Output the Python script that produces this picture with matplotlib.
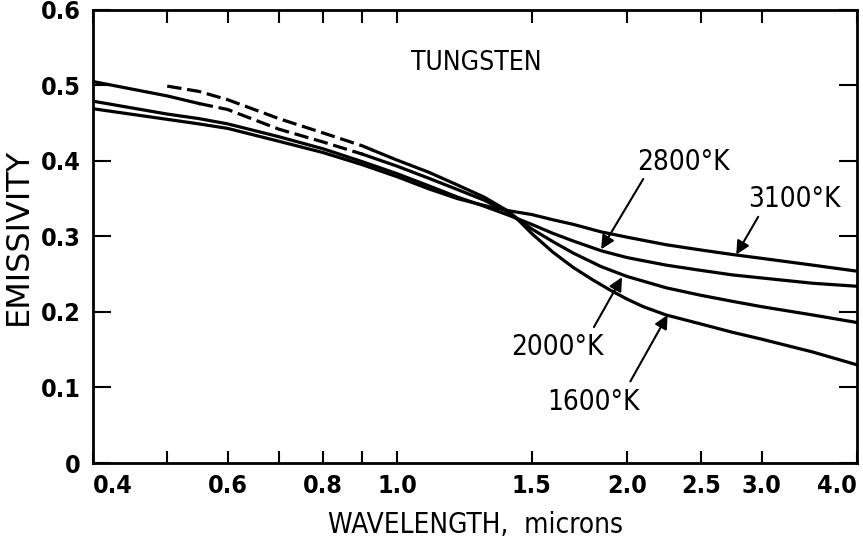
import matplotlib
matplotlib.use("Agg")
import matplotlib.pyplot as plt
from matplotlib.ticker import FixedLocator, NullFormatter
import numpy as np

plt.rcParams['font.family'] = ['DejaVu Sans']
plt.rcParams['font.stretch'] = 'condensed'

# wavelength grid (microns) and emissivity
wl = [0.4, 0.5, 0.55, 0.6, 0.7, 0.8, 0.9, 1.0, 1.1, 1.2, 1.3, 1.4, 1.5,
      1.6, 1.7, 1.85, 2.0, 2.25, 2.5, 2.75, 3.0, 3.5, 4.0]
e3100 = [0.469, 0.455, 0.449, 0.443, 0.426, 0.411, 0.395, 0.379, 0.363, 0.350, 0.341, 0.334, 0.329,
         0.322, 0.316, 0.306, 0.299, 0.289, 0.282, 0.276, 0.271, 0.262, 0.254]
e2800 = [0.479, 0.462, 0.456, 0.449, 0.432, 0.416, 0.399, 0.383, 0.367, 0.352, 0.340, 0.328, 0.316,
         0.304, 0.294, 0.281, 0.272, 0.262, 0.255, 0.249, 0.245, 0.238, 0.234]
e2000 = [0.505, 0.486, 0.476, 0.468, 0.442, 0.425, 0.409, 0.393, 0.377, 0.362, 0.348, 0.332, 0.310,
         0.293, 0.278, 0.260, 0.247, 0.232, 0.222, 0.214, 0.207, 0.196, 0.186]
wl1600 = [0.5, 0.55, 0.6, 0.7, 0.8, 0.9, 0.93, 1.0, 1.1, 1.2, 1.3, 1.4, 1.45, 1.5,
          1.6, 1.7, 1.8, 1.9, 2.0, 2.1, 2.25, 2.5, 2.75, 3.0, 3.5, 4.0]
e1600 = [0.499, 0.492, 0.481, 0.456, 0.437, 0.420, 0.414, 0.401, 0.385, 0.368, 0.352, 0.333, 0.319, 0.304,
         0.279, 0.259, 0.243, 0.229, 0.217, 0.207, 0.196, 0.184, 0.173, 0.164, 0.147, 0.130]

xticks = [0.4, 0.6, 0.8, 1.0, 1.5, 2.0, 2.5, 3.0, 4.0]
xticklabels = ["0.4", "0.6", "0.8", "1.0", "1.5", "2.0", "2.5", "3.0", "4.0"]
xminor = [0.5, 0.7, 0.9]
yticks = [0, 0.1, 0.2, 0.3, 0.4, 0.5, 0.6]
yticklabels = ["0", "0.1", "0.2", "0.3", "0.4", "0.5", "0.6"]

# label text, text centre, arrow tail, arrow tip
labels = ["2800°K", "3100°K", "2000°K", "1600°K"]
label_pos = [(2.37, 0.399), (3.31, 0.350), (1.62, 0.154), (1.81, 0.081)]
arrow_tail = [(2.10, 0.376), (2.97, 0.326), (1.81, 0.180), (2.02, 0.108)]
arrow_tip = [(1.85, 0.283), (2.78, 0.276), (1.97, 0.246), (2.26, 0.196)]

dash_2000 = (0.55, 0.9)
dash_1600 = (0.5, 0.93)


def pieces(x, y, lo, hi):
    x = np.array(x); y = np.array(y)
    return ((x[x <= lo], y[x <= lo]),
            (x[(x >= lo) & (x <= hi)], y[(x >= lo) & (x <= hi)]),
            (x[x >= hi], y[x >= hi]))


fig = plt.figure(figsize=(8.63, 5.46), dpi=100)
ax = fig.add_axes([0.108, 0.152, 0.885, 0.830])
ax.set_xscale('log')
ax.set_xlim(0.4, 4.0)
ax.set_ylim(0, 0.6)

lw = 2.3
dash = (0, (4.5, 1.8))
ax.plot(wl, e3100, color='black', lw=lw, solid_joinstyle='round')
ax.plot(wl, e2800, color='black', lw=lw, solid_joinstyle='round')
for x, y, (lo, hi) in [(wl, e2000, dash_2000), (wl1600, e1600, dash_1600)]:
    a, b, c = pieces(x, y, lo, hi)
    if len(a[0]) > 1:
        ax.plot(*a, color='black', lw=lw, solid_joinstyle='round')
    ax.plot(*b, color='black', lw=lw, ls=dash)
    ax.plot(*c, color='black', lw=lw, solid_joinstyle='round')

fs = 20
ax.text(1.27, 0.529, "TUNGSTEN", fontsize=19, ha='center', va='center')
for t, pos, tail, tip in zip(labels, label_pos, arrow_tail, arrow_tip):
    ax.text(pos[0], pos[1], t, fontsize=fs, ha='center', va='center')
    ax.annotate("", xy=tip, xytext=tail,
                arrowprops=dict(arrowstyle='-|>', color='black', lw=1.5,
                                mutation_scale=20, shrinkA=0, shrinkB=0))

ax.xaxis.set_major_locator(FixedLocator(xticks))
ax.set_xticklabels(xticklabels)
ax.xaxis.set_minor_locator(FixedLocator(xminor))
ax.xaxis.set_minor_formatter(NullFormatter())
ax.set_yticks(yticks)
ax.set_yticklabels(yticklabels)

ax.tick_params(axis='x', which='both', direction='in', top=True, length=9, width=1.5,
               labelsize=18, pad=8)
ax.tick_params(axis='y', which='both', direction='in', right=True, length=13, width=1.5,
               labelsize=18, pad=9)
for lab in ax.get_xticklabels() + ax.get_yticklabels():
    lab.set_fontweight('bold')
tl = ax.get_xticklabels()
tl[0].set_ha('left')
tl[-1].set_ha('right')

for s in ax.spines.values():
    s.set_linewidth(2)

ax.set_xlabel("WAVELENGTH,  microns", fontsize=20, labelpad=9)
ax.set_ylabel("EMISSIVITY", fontsize=23, fontstretch='normal', labelpad=5)

fig.savefig("out.png", dpi=100)
